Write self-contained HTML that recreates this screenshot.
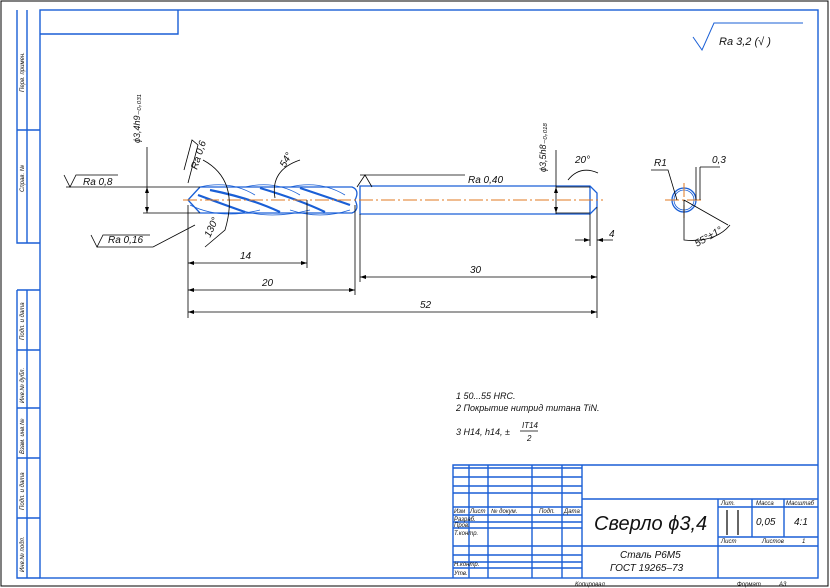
<!DOCTYPE html>
<html><head><meta charset="utf-8"><style>
html,body{margin:0;padding:0;background:#fff}
svg{display:block}
text{font-family:"Liberation Sans",sans-serif;font-style:italic;fill:#111}
</style></head><body>
<svg width="830" height="588" viewBox="0 0 830 588" xmlns="http://www.w3.org/2000/svg">
<rect x="1" y="1" width="827" height="585" fill="none" stroke="#000" stroke-width="1"/>
<g fill="none" stroke="#1a5fd6" stroke-width="1.4">
<rect x="40" y="10" width="778" height="568"/>
<path d="M40 34H178V10"/>
<path d="M17 10V243H40M27 10V243M17 130H40"/>
<path d="M17 290V578H40M27 290V578M17 290H40M17 350H40M17 408H40M17 458H40M17 518H40"/>
<!-- title block -->
<path d="M453 578V465H818"/>
<path d="M469 465V578M488 465V578M532 465V578M562 465V578M582 465V578"/>
<path d="M453 468H582M453 477H582M453 486H582M453 493H582M453 507H582M453 515H582M453 522H582M453 528H582M453 546H582M453 555H582M453 562H582M453 568H582"/>
<path d="M582 499H818M582 546H818M718 499V578M718 507H818M718 537H818M752 499V537M784 499V537"/>
</g>
<g stroke="#000" stroke-width="1.2"><path d="M727 510V535M738 510V535"/></g>
<!-- left strip labels -->
<g font-size="6">
<text transform="translate(24,92) rotate(-90)">Перв. примен.</text>
<text transform="translate(24,192) rotate(-90)">Справ. №</text>
<text transform="translate(24,340) rotate(-90)">Подп. и дата</text>
<text transform="translate(24,403) rotate(-90)">Инв.№ дубл.</text>
<text transform="translate(24,454) rotate(-90)">Взам. инв.№</text>
<text transform="translate(24,510) rotate(-90)">Подп. и дата</text>
<text transform="translate(24,572) rotate(-90)">Инв.№ подл.</text>
</g>
<!-- title block text -->
<g font-size="6">
<text x="454" y="513">Изм</text><text x="470" y="513">Лист</text><text x="491" y="513">№ докум.</text><text x="539" y="513">Подп.</text><text x="564" y="513">Дата</text>
<text x="454" y="521">Разраб.</text><text x="454" y="527">Пров.</text><text x="454" y="535">Т.контр.</text>
<text x="454" y="566">Н.контр.</text><text x="454" y="575">Утв.</text>
<text x="721" y="505">Лит.</text><text x="756" y="505">Масса</text><text x="786" y="505">Масштаб</text>
<text x="721" y="543">Лист</text><text x="762" y="543">Листов</text><text x="802" y="543">1</text>
<text x="575" y="586">Копировал</text><text x="737" y="586">Формат</text><text x="779" y="586">А3</text>
</g>
<text x="594" y="530" font-size="20">Сверло ϕ3,4</text>
<text x="756" y="525" font-size="10">0,05</text><text x="794" y="525" font-size="10">4:1</text>
<text x="620" y="558" font-size="10">Сталь Р6М5</text>
<text x="610" y="571" font-size="10">ГОСТ 19265–73</text>
<!-- notes -->
<g font-size="9">
<text x="456" y="399">1 50...55 HRC.</text>
<text x="456" y="411">2 Покрытие нитрид титана TiN.</text>
<text x="456" y="435">3 H14, h14, ±</text>
<text x="522" y="428" font-size="8">IT14</text><text x="527" y="441" font-size="8">2</text>
</g>
<path d="M520 431H538" stroke="#000" stroke-width="0.8"/>
<!-- top right roughness -->
<path d="M693 37L702 50L714 23H803" fill="none" stroke="#1a5fd6" stroke-width="1"/>
<text x="719" y="45" font-size="11">Ra 3,2 (√ )</text>
<!-- drill -->
<g fill="none" stroke="#1a5fd6" stroke-width="1.3">
<path d="M200 187H352Q360 190 355 200Q360 210 352 213H200"/>
<path d="M188 200L200 187M188 200L200 213"/>
<path d="M360 186H590L597 193V207L590 214H360Z"/>
<path d="M590 186V214"/>
<path d="M210 190Q250 198 280 212M260 188Q300 200 325 212M300 188Q330 198 350 205M198 195Q225 205 245 212" stroke-width="2.2"/>
<path d="M200 187Q230 180 255 195M245 187Q275 180 300 195M290 187Q320 180 345 195M190 205Q220 220 260 210M240 210Q270 220 310 210M290 210Q320 220 350 210" stroke-width="0.8"/>
<circle cx="684" cy="200" r="12"/>
<circle cx="684" cy="200" r="10" stroke-width="0.8"/>
</g>
<g stroke="#e07a20" stroke-width="1" stroke-dasharray="14 3 2 3">
<path d="M183 200H603"/><path d="M665 200H704M684 183V218"/>
</g>
<!-- dimension lines -->
<g fill="none" stroke="#000" stroke-width="0.8">
<path d="M188 205V318M307 200V268M355 205V295M360 214V282M597 207V318"/>
<path d="M188 263H307M188 290H355M360 277H597M188 312H597"/>
<path d="M66 187H200M143 213H200M147 147V213"/>
<path d="M64 175L70 187L76 175H118"/>
<path d="M91 235L97 247L103 235H150M97 247H153L195 225"/>
<path d="M357 187L365 175L372 187"/><path d="M465 175H360"/>
<path d="M556 150V214M556 187H590M556 213H590"/>
<path d="M575 240H590M597 240H613M590 214V246"/>
<path d="M188 183L198 145L192 140L184 170"/>
<path d="M203 160Q240 180 225 230L205 247"/>
<path d="M275 198Q270 170 300 160"/>
<path d="M568 180Q580 165 598 173"/>
<path d="M651 170H668L677 200M700 167V200M696 167V200M700 167H720"/>
<path d="M684 200L728 225M684 200V240Q715 243 730 225"/>
</g>
<g fill="#000">
<path d="M147 187l-2 6h4zM147 213l-2-6h4zM556 187l-2 6h4zM556 213l-2-6h4z"/>
<path d="M188 263l6-2v4zM307 263l-6-2v4zM188 290l6-2v4zM355 290l-6-2v4zM360 277l6-2v4zM597 277l-6-2v4zM188 312l6-2v4zM597 312l-6-2v4z"/>
<path d="M590 240l-6-2v4zM597 240l6-2v4z"/>
</g>
<g font-size="10">
<text x="83" y="185">Ra 0,8</text>
<text x="108" y="243">Ra 0,16</text>
<text x="468" y="183">Ra 0,40</text>
<text x="240" y="259">14</text><text x="262" y="286">20</text><text x="470" y="273">30</text><text x="420" y="308">52</text>
<text x="609" y="237">4</text>
<text x="654" y="166">R1</text><text x="712" y="163">0,3</text>
<text x="575" y="163">20°</text>
<text transform="translate(140,143) rotate(-90)" font-size="9">ϕ3,4h9₋₀,₀₃₁</text>
<text transform="translate(546,172) rotate(-90)" font-size="9">ϕ3,5h8₋₀,₀₁₈</text>
<text transform="translate(197,170) rotate(-72)">Ra 0,6</text>
<text transform="translate(210,238) rotate(-65)">130°</text>
<text transform="translate(285,168) rotate(-60)">54°</text>
<text transform="translate(697,247) rotate(-30)">55°±1°</text>
</g>
</svg>
</body></html>
